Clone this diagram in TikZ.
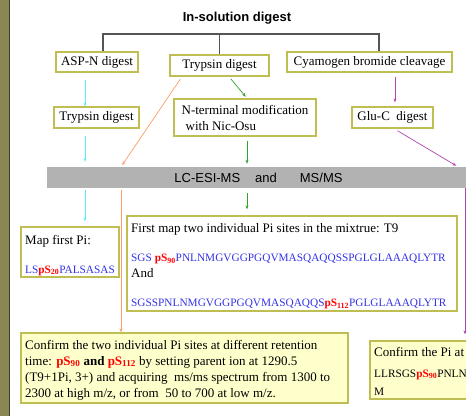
\documentclass[tikz,border=0pt]{standalone}
\usepackage{fontspec}
\setmainfont{Liberation Serif}
\newfontfamily\sansfont{Liberation Sans}
\usetikzlibrary{arrows.meta}

\definecolor{olivestrip}{RGB}{138,136,82}
\definecolor{stripedge}{RGB}{60,60,50}
\definecolor{boxline}{RGB}{190,190,82}
\definecolor{notefill}{RGB}{255,255,204}
\definecolor{barfill}{RGB}{178,178,178}
\definecolor{seqblue}{RGB}{51,51,230}
\definecolor{sitered}{RGB}{255,0,0}
\definecolor{cyanarrow}{RGB}{90,235,255}
\definecolor{greenarrow}{RGB}{50,160,50}
\definecolor{orangearrow}{RGB}{255,155,100}
\definecolor{purplearrow}{RGB}{175,70,175}
\definecolor{bracketgray}{RGB}{85,85,85}

% phosphorylated serine with its residue number
\newcommand{\psite}[1]{\textcolor{sitered}{\textbf{pS\textsubscript{#1}}}}

\tikzset{
  stepbox/.style={draw=boxline, line width=1.3pt, fill=white, inner sep=0pt,
    font=\fontsize{13}{16}\selectfont},
  notebox/.style={stepbox, fill=notefill},
  flow/.style={line width=0.7pt, -{Stealth[length=4pt,width=3pt]}},
  txt/.style={anchor=base west, inner sep=0pt, font=\fontsize{13}{16}\selectfont},
  seq/.style={anchor=base west, inner sep=0pt, font=\fontsize{11.3}{13}\selectfont, text=seqblue},
  bracketline/.style={draw=bracketgray, line width=1.4pt},
}

\begin{document}
\begin{tikzpicture}[x=1pt, y=-1pt]
\useasboundingbox (0,0) rectangle (466,416);
\clip (0,0) rectangle (466,416);

% olive side strip
\fill[olivestrip] (0,0) rectangle (9,416);
\draw[stripedge, line width=1pt] (9.6,0) -- (9.6,416);

% title and bracket
\node[font=\sansfont\bfseries\fontsize{13}{15}\selectfont, inner sep=0pt] (title) at (237,18) {In-solution digest};

\node[stepbox, minimum width=82pt, minimum height=20pt] (asp) at (97,62) {ASP-N digest};
\node[stepbox, minimum width=99pt, minimum height=21pt] (tryt) at (219.5,65.5) {Trypsin digest};
\node[stepbox, minimum width=165pt, minimum height=20pt] (cyb) at (369.5,62) {Cyamogen bromide cleavage};

\coordinate (bl) at (103,34);
\coordinate (br) at (379,34);
\draw[bracketline] (asp.north -| bl) -- (bl) -- (br) -- (cyb.north -| br);
\draw[bracketline] (tryt.north) -- (tryt.north |- bl);

% second row
\node[stepbox, minimum width=85pt, minimum height=21pt] (tryl) at (96.5,117.5) {Trypsin digest};
\node[stepbox, minimum width=142pt, minimum height=37pt, align=left] (nterm) at (245,117.5)
  {N-terminal modification\\\hspace*{4pt}with Nic-Osu};
\node[stepbox, minimum width=81pt, minimum height=21pt] (gluc) at (392.5,117.5) {Glu-C\ \ digest};

% LC-MS bar
\node[fill=barfill, minimum width=423pt, minimum height=21pt, inner sep=0pt,
  font=\sansfont\fontsize{13}{15}\selectfont] (lc) at (258.5,177.5)
  {LC-ESI-MS\hspace{15pt}and\hspace{23pt}MS/MS};

% result boxes
\node[stepbox, minimum width=98pt, minimum height=50pt] (mapbox) at (70,252) {};
\node[txt] (maptitle) at (25,244) {Map first Pi:};
\node[seq] (mapseq) at (25,273) {LS\psite{20}PALSASAS};

\node[stepbox, minimum width=330pt, minimum height=95pt] (firstmap) at (292,263.5) {};
\node[txt] (fmline) at (131,232) {First map two individual Pi sites in the mixtrue: T9};
\node[seq] (fmseqa) at (131,261.5) {SGS \psite{90}PNLNMGVGGPGQVMASQAQQSSPGLGLAAAQLYTR};
\node[txt] (fmand) at (131,277) {And};
\node[seq] (fmseqb) at (131,306.5) {SGSSPNLNMGVGGPGQVMASQAQQS\psite{112}PGLGLAAAQLYTR};

\node[notebox, minimum width=327pt, minimum height=70pt] (confirm) at (184.5,368) {};
\node[txt] (cfa) at (25,349) {Confirm the two individual Pi sites at different retention};
\node[txt] (cfb) at (25,365) {time: \psite{90} \textbf{and} \psite{112} by setting parent ion at 1290.5};
\node[txt] (cfc) at (25,381) {(T9+1Pi, 3+) and acquiring\ \ ms/ms spectrum from 1300 to};
\node[txt] (cfd) at (25,397) {2300 at high m/z, or from\ \ 50 to 700 at low m/z.};

\node[notebox, minimum width=150pt, minimum height=58pt] (rightbox) at (445,370) {};
\node[txt] (rba) at (374,356) {Confirm the Pi at};
\node[seq, text=black] (rbb) at (374,377) {LLRSGS\psite{90}PNLN};
\node[seq, text=black] (rbc) at (374,395) {M};

% connector columns
\coordinate (xc) at (85,0);
\coordinate (xo1) at (182,0);
\coordinate (xo2) at (121,0);
\coordinate (xg1) at (229,0);
\coordinate (xg) at (247,0);
\coordinate (xm) at (395,0);
\coordinate (xp1) at (394,0);
\coordinate (xp2) at (458,0);
\coordinate (xp3) at (465,0);

% connectors
\draw[flow, cyanarrow, shorten <=7pt] (asp.south -| xc) -- (tryl.north -| xc);
\draw[flow, cyanarrow, shorten <=7pt, shorten >=5pt] (tryl.south -| xc) -- (lc.north -| xc);
\draw[flow, cyanarrow, shorten <=2pt, shorten >=5pt] (lc.south -| xc) -- (mapbox.north -| xc);

\draw[flow, orangearrow, shorten <=3pt, shorten >=2pt] (tryt.south -| xo1) -- (lc.north -| xo2);
\draw[flow, orangearrow, shorten <=2pt] (lc.south -| xo2) -- (confirm.north -| xo2);

\draw[flow, greenarrow, shorten <=3pt, shorten >=2pt] (tryt.south -| xg1) -- (nterm.north -| xg);
\draw[flow, greenarrow, shorten <=4pt, shorten >=3pt] (nterm.south -| xg) -- (lc.north -| xg);
\draw[flow, greenarrow, shorten <=5pt, shorten >=6pt] (lc.south -| xg) -- (firstmap.north -| xg);

\draw[flow, purplearrow, shorten <=4pt, shorten >=4pt] (cyb.south -| xm) -- (gluc.north -| xm);
\draw[flow, purplearrow, shorten <=4pt, shorten >=2pt] (gluc.south -| xp1) -- (lc.north -| xp2);
\draw[flow, purplearrow, shorten >=6pt] (lc.south -| xp3) -- (rightbox.north -| xp3);
\end{tikzpicture}
\end{document}
